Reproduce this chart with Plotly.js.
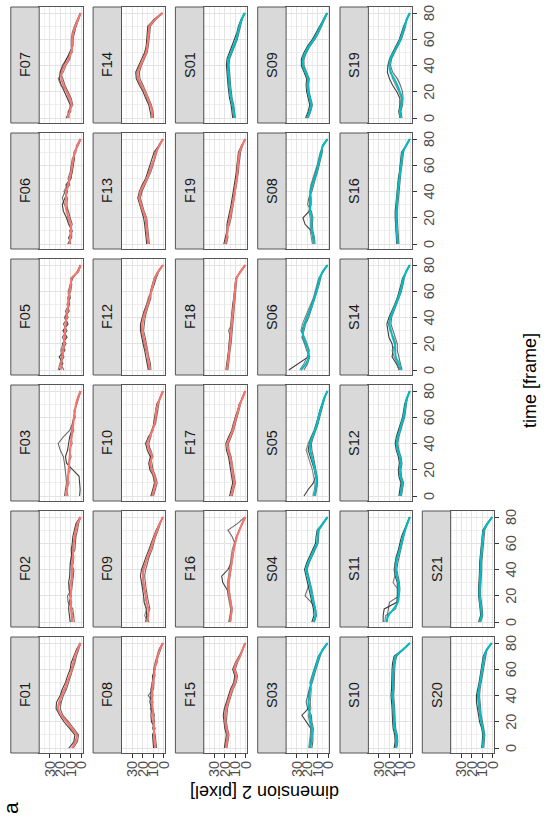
<!DOCTYPE html>
<html><head><meta charset="utf-8">
<script src="https://cdn.plot.ly/plotly-3.0.1.min.js"></script>
<style>
html,body{margin:0;padding:0;background:#fff;overflow:hidden;width:547px;height:817px}
#wrap{position:absolute;left:0;top:0;width:817px;height:547px;transform-origin:0 0;transform:translateY(817px) rotate(-90deg);}
</style></head>
<body><div id="wrap"><div id="chart" style="width:817px;height:547px"></div></div>
<script>
// time frames
const T = [0,5,10,15,20,25,30,35,40,45,50,55,60,65,70,75,80];
const TIME_TICKS = [0,20,40,60,80];
const DIM_TICKS = [0,10,20,30];
const PANELS = ['F01','F02','F03','F05','F06','F07','F08','F09','F10','F12','F13','F14','F15','F16','F17','F18','F19','S01','S03','S04','S05','S06','S08','S09','S10','S11','S12','S14','S16','S19','S20','S21'];

const F01_mean=[9,5,4.5,9,14,19,22,21,18.5,16,13.5,11,9,7.5,6,3.5,0.5];
const F01_r1=[11.5,7,6,11,16.5,20.5,24,23.5,20,18,15,13,10.5,9.5,7,4.5,1];
const F01_r2=[7.5,3.5,2.5,7,12,17.5,20,19,17,14,12,9.5,7.5,6,4.5,2.5,0.3];
const F01_r3=[12,6,3.5,10.5,13,20.5,23,19.5,20,15,14.5,10,10,7,6.5,3,0.8];

const F02_mean=[8.5,9,9.5,10,10,9.5,9.5,9,8.5,8.5,8,7.5,7,6.5,5,3.5,0.5];
const F02_r1=[10.5,11,12,11.5,9.5,11.5,12,11,10.5,10.5,9,9.5,8.5,8,6.5,5,1];
const F02_r2=[6.5,7.5,8,12.5,13,9,8,7.5,7,10,9.5,6,5.5,5,3.5,2.5,0.5];
const F02_r3=[10,7.5,10.5,9,11,11.5,10.5,8,9.5,7.5,7,8.5,8,5.5,6,4.5,0.8];

const F03_mean=[14.5,13.5,13,12.5,12,11.5,11,10.5,10,9,8.5,7.5,7,6,5,3,0.5];
const F03_r1=[1.5,1,1.5,2,8,14,15,13,12,11,9,8,7,6,5,3,0.5];
const F03_r2=[16,15,14,14.5,15,16,17,20,22,17,11,8.5,7,6,5,3.5,1];
const F03_r3=[12.5,14,11.5,13,10.5,12.5,9.5,11.5,8.5,10,7,8.5,5.5,7,4,2.5,0.3];

const F05_mean=[19.5,19,18,17,16.5,16,15.5,15,14,13,12.5,12,11,10,9,3,0.5];
const F05_r1=[21,17.5,21,15.5,18,13.5,17.5,12.5,15.5,11.5,13.5,10.5,11.5,10.5,8,3.5,1];
const F05_r2=[16.5,20,16.5,18.5,14.5,18,13.5,17,12.5,15,11.5,13,10,9,10,2.5,0.5];
const F05_r3=[22,20.5,18.5,19.5,17.5,14.5,16.5,13.5,16,13,11,12,12.5,10.5,8.5,4,0.3];

const F06_mean=[11,10.5,9.5,10,12,14,15,14.5,14,12.5,11,9.5,8.5,7.5,6,3.5,0.5];
const F06_r1=[10,12,8.5,12,14,17,18,15.5,13,14.5,10,8.5,7.5,6.5,6.5,3,0.5];
const F06_r2=[12.5,9.5,11,8.5,10.5,12,16,18,15.5,11,12.5,10.5,9.5,8.5,5,4.5,1];
const F06_r3=[13,9,9,11.5,13,12.5,13.5,13,16.5,13.5,9.5,9,9.5,7,7,3,0.3];

const F07_mean=[13,11,9,11,14,17,19,18.5,16,12,9.5,8.5,8.5,7.5,5.5,3,0.5];
const F07_r1=[14.5,10,10.5,13,16,19,21,20,17,13.5,11,8,8,6.5,5,2.5,0.5];
const F07_r2=[11.5,12.5,8,9.5,12.5,15.5,17.5,20,18,14,8.5,9.5,9.5,8.5,6.5,4,1];
const F07_r3=[14,12,10,12.5,13,19.5,22,17,14.5,10.5,10.5,8,7.5,7.5,4.5,3,0.3];

const F08_mean=[8,8.5,9,9,9.5,10,10.5,11,11,10.5,10,9,8.5,7,5.5,3.5,0.5];
const F08_r1=[9.5,10,10.5,8,11.5,12,11.5,13,12,12,10.5,10.5,8,7.5,5,3,0.5];
const F08_r2=[6.5,7.5,8,10.5,8.5,9.5,12.5,10,14.5,9.5,9,9.5,9.5,8,6.5,4.5,1];
const F08_r3=[8.5,9.5,8,9.5,10.5,8.5,10,12,10,11.5,11,8,9,6,5.5,3.5,0.3];

const F09_mean=[15.5,14.5,14.5,16,17,18,19,19.5,19,17,15,12.5,10.5,8.5,6,3.5,0.5];
const F09_r1=[17,16,16.5,18.5,19,20,21.5,22,21,19,16.5,14,12,9.5,7,4,0.5];
const F09_r2=[14,15.5,13,14.5,15.5,16.5,17.5,18,17,15.5,13.5,11,9.5,7.5,5,3,1];
const F09_r3=[15,18,16,18,17,18.5,20.5,20,20,17.5,14,13.5,11,9,6.5,4,0.3];

const F10_mean=[10.5,9,7.5,8.5,11,12.5,11,13.5,15.5,13,10.5,8.5,7.5,7,5.5,3,0.5];
const F10_r1=[12,10.5,8.5,9.5,13,14,12.5,15.5,17,14.5,10,9.5,8.5,8,6.5,3,0.5];
const F10_r2=[9.5,8,6,7.5,10,11,12.5,12.5,14,12,11.5,7.5,6.5,6,4.5,3.5,1];
const F10_r3=[12,9,8.5,10,11.5,14,10,12,17.5,13.5,11.5,9.5,7,7.5,5.5,2.5,0.3];

const F12_mean=[13,14,15,16,17.5,19,20,20,19,17,15,13,11.5,10,8,5,0.5];
const F12_r1=[14.5,15.5,17,18,19.5,21,22,22,20.5,18.5,16,13.5,11,9,7,4.5,0.5];
const F12_r2=[12,12.5,14,15,16.5,17.5,19,18.5,17.5,16,14,12,12.5,11,9,5.5,1];
const F12_r3=[14,15,14.5,17,18.5,20,21,20.5,20.5,18,16.5,14.5,12,10.5,8,5,0.3];

const F13_mean=[14.5,15,16,16,17,19.5,21.5,23,22,19,15.5,13,11,9,7,4,0.5];
const F13_r1=[16,16.5,17.5,18,19,21,23,24.5,23,20.5,17,15,13,11.5,9,4.5,0.5];
const F13_r2=[13.5,14,15,15,16,18.5,20.5,22,20.5,17.5,14.5,12,10,8,6,4.5,1];
const F13_r3=[15,15.5,16,17,17.5,20.5,22.5,23,21,19.5,15,14,11.5,9,8,3.5,0.3];

const F14_mean=[10.7,11,12.5,15,17.5,21,24,24.5,22,19,16.5,15.5,14.5,14,13.5,8,1];
const F14_r1=[11.5,12.5,14,17,19.5,23,26,26.5,23.5,20.5,18,16.5,16,15,15,9,1];
const F14_r2=[9.5,10,11.5,14,16.5,19.5,22.5,23,21,18,15.5,14.5,13.5,13,12.5,7.5,0.5];
const F14_r3=[12,10.5,13,16,18,22,25,25.5,23,19,17.5,15.5,15,14.5,14,9.5,1.5];

const F15_mean=[19,18,17,18.5,19.5,19.5,18.5,17,15,13,10,9,11,9,5.5,3,0.5];
const F15_r1=[20.5,19.5,18.5,20,21,21.5,20.5,18.5,16.5,14.5,11.5,10.5,12.5,10,6.5,3,0.5];
const F15_r2=[18,17,16,17.5,18.5,18,17.5,16,14,12,9,8,10,8,5,3.5,1];
const F15_r3=[20,18.5,17.5,19.5,20.5,20,19,18,15.5,13.5,11,9.5,12,9.5,5.5,2.5,0.3];

const F16_mean=[15,14,13.5,14.5,15.5,16.5,16.5,15.5,14.5,13.5,12.5,11.5,10,8.5,6,3.5,0.5];
const F16_r1=[15.5,14.5,14,15,16,18,22,23,17,14,13,12,10.5,9,6.5,3.5,0.5];
const F16_r2=[14.5,13.5,13,14,15,16,16,15,14,13,12,11,10.5,13,17,8,1];
const F16_r3=[16.5,15,14.5,16,17,17.5,17.5,16.5,15.5,15,14,13,11,9,6.5,3,0.3];

const F17_mean=[14,12.5,11,12,13,13.5,15,17,17.5,15,12.5,11,9,7.5,5.5,3,0.5];
const F17_r1=[15.5,14,12.5,13.5,14.5,15,16.5,18.5,19,16.5,13.5,12,10,8.5,6,3,0.5];
const F17_r2=[13,11.5,10,11,12,12.5,14,16,16.5,14,11.5,10,8,6.5,5,3.5,1];
const F17_r3=[14.5,13,11,13,13,14.5,15.5,17.5,17,15.5,13.5,11,10,7.5,6.5,2.5,0.3];

const F18_mean=[18,17.2,16.5,15.8,15,14.5,14,13.5,13,12.2,11.5,11,10.5,9.8,9,5,0.5];
const F18_r1=[19,18,17.5,16.5,16,15.5,15,14.5,14,13,12.5,11.5,11,10.5,9.5,5,0.5];
const F18_r2=[17,16.5,15.5,15,14,13.5,13,12.5,12,11.5,10.5,10.5,10,9,8.5,5.5,1];
const F18_r3=[18,17.5,16.5,16,15.5,14.5,16.5,13.5,13,12.5,11.5,11.5,10.5,10,9.5,4.5,0.3];

const F19_mean=[19.5,18,17.5,16.5,15,14,12.5,11.5,10.5,9.5,8.5,8,7.5,7,6,3.5,0.5];
const F19_r1=[21,19.5,18,18,16.5,15,14,13,12,10.5,9.5,9,8.5,8,7,4,0.5];
const F19_r2=[18.5,17,18,15.5,14,13,11.5,10.5,9.5,8.5,7.5,7,6.5,6,5,3,1];
const F19_r3=[20,18.5,17,17,16,14.5,13,12,10.5,10,8.5,8,8,7,6,4,0.3];

const S01_mean=[11,11.5,12.5,14,15,15.5,16,16.5,17,16.5,14,11.5,9,7.5,6,4,1];
const S01_r1=[12.5,13,14,15.5,16.5,17,17.5,18,18.5,18,15.5,13,10.5,8.5,7,4.5,1];
const S01_r2=[10,10.5,11.5,13,14,14.5,15,15.5,16,15.5,13,10.5,8,6.5,5,3.5,0.5];
const S01_r3=[11.5,12,13,14.5,15.5,16,17,17,17.5,16.5,14.5,12,9,7.5,6,4.5,1.5];

const S03_mean=[17,16,15.5,15.5,16.5,17.5,18,18.5,18,17,16,14.5,12.5,10.5,8.5,5,0.5];
const S03_r1=[17.5,16.5,16,16.5,21,25,19,19,18.5,17.5,16.5,15,13,11,9,5,0.5];
const S03_r2=[15.5,14.5,14.5,14,15.5,16,19.5,21,19.5,18,15,13.5,11.5,9.5,7.5,5.5,1];
const S03_r3=[18.5,17.5,17,16.5,17.5,19,16.5,17,16.5,16,17.5,15.5,13.5,11.5,9.5,4.5,0.3];

const S04_mean=[14,12,12.5,14,15.5,16.5,18,19.5,21,19,16,13.5,10.5,10,9.5,5,0.5];
const S04_r1=[15.5,13.5,14,15.5,17,18,19.5,21,22.5,20.5,17.5,15,12,11.5,10.5,5,0.5];
const S04_r2=[13.5,11.5,12,16,22,20,17.5,19,20.5,18.5,15.5,13,10,9.5,9,5.5,1];
const S04_r3=[13,11,12,13,14.5,15.5,17,18.5,20,18,15,12.5,9.5,9,8.5,4.5,0.3];

const S05_mean=[13,12,11,11.5,12.5,14,15.5,17,17,15,12.5,10.5,9,7.5,5.5,3.5,0.5];
const S05_r1=[23,19,14,12,13,15,17,19,18,16,13,11,9.5,8,6,3.5,0.5];
const S05_r2=[12,11,10,10.5,11.5,12.5,14,15.5,16,14,11.5,9.5,8,6.5,5,3,1];
const S05_r3=[14.5,13,12.5,13.5,15,17,19,21,19,16,13.5,11.5,9.5,8,6,4,0.3];

const S06_mean=[26,21,18.5,19,21,23.5,24,22.5,20,17.5,15,13,11,9.5,8,5,0.5];
const S06_r1=[37.5,28,19,18.5,21.5,24,25,23,20.5,18,15.5,13.5,11.5,10,8.5,5,0.5];
const S06_r2=[23,19.5,17.5,20.5,22.5,25,23,21.5,18.5,16.5,14,12,10,8.5,7,5.5,1];
const S06_r3=[27,23,20,18,20,22.5,26,24.5,22,19.5,16.5,14,12.5,10.5,9,4.5,0.3];

const S08_mean=[13.5,14,15.5,16,15.5,17,17,17,16.5,15,13,11,9.5,8,6.5,5,0.5];
const S08_r1=[14,14.5,16,22,24,18,17.5,17.5,17,15.5,13.5,11.5,10,8.5,7,5,0.5];
const S08_r2=[12.5,13,14.5,15,14.5,16,19.5,18.5,15.5,14,12,10,8.5,7,5.5,5.5,1];
const S08_r3=[15,16,17,17,17,18.5,16,16,17.5,16.5,14.5,12,10.5,9,7.5,4.5,0.3];

const S09_mean=[20,17.5,16,17.5,19,19.5,19,21.5,24,24,21.5,18,13.5,10,7,4,1];
const S09_r1=[21.5,19,17.5,19,20.5,21,20.5,23,25.5,25.5,23,19.5,15,11.5,8,4.5,1];
const S09_r2=[19,16.5,15,16.5,18,18.5,18,20.5,23,23,20.5,17,12.5,9,6,3.5,0.5];
const S09_r3=[20.5,18,16.5,18,19.5,20,20,22,24.5,24.5,21,18.5,14,10,7.5,4.5,1.5];

const S10_mean=[14,13,13.5,15,15.5,15.5,16,16.5,17,16.5,16.5,16.5,16,15.5,14,7,0.5];
const S10_r1=[15.5,14.5,15,16.5,17,17,17.5,18,18.5,18,18,18,17.5,17,15.5,7.5,0.5];
const S10_r2=[13,12,12.5,14,14.5,14.5,15,15.5,16,15.5,15.5,15.5,15,14.5,13,7,1];
const S10_r3=[14.5,13.5,14,15.5,16.5,16,16.5,17,17.5,17,17,17,16.5,16,14.5,6.5,0.3];

const S11_mean=[23,21,16,12,11,11,11.5,13,14,13.5,12,10,8.5,7,5,3,0.5];
const S11_r1=[26,26,25,13,12.5,12.5,12.5,14.5,15.5,14.5,13.5,11.5,10,8.5,6,3,0.5];
const S11_r2=[22,22,21,20,10.5,10,10.5,11.5,13,12,10.5,9,7.5,6,4.5,3.5,1];
const S11_r3=[24.5,23.5,14,12.5,12,12,16.5,15,15,14.5,13,11,9.5,7.5,5,2.5,0.3];

const S12_mean=[9.5,8.5,7.5,9.5,10,9,10,12,13,12,10,8.5,6.5,5.5,4.5,3,0.5];
const S12_r1=[11,10,9,11,11.5,10.5,11.5,13.5,14.5,13.5,11.5,9.5,7.5,6.5,5.5,3.5,0.5];
const S12_r2=[8.5,7.5,6.5,8.5,9,8,9,11,12,11,9,7.5,5.5,4.5,3.5,3,1];
const S12_r3=[10,9,8.5,10,11,9.5,10.5,12.5,13.5,12.5,10.5,9,7,5.5,5,2.5,0.3];

const S14_mean=[9.5,11,14,14.5,15,17,18.5,20,19,16.5,14,11.5,9.5,8,6.5,4,0.5];
const S14_r1=[10.5,13.5,17.5,16.5,17.5,20.5,21.5,22.5,20.5,17.5,15,12.5,10.5,9,7.5,4,0.5];
const S14_r2=[8,9.5,11.5,12.5,12.5,14.5,16.5,18.5,18,15.5,13,10.5,8.5,7,5.5,4.5,1];
const S14_r3=[11,12.5,15.5,17.5,14,16,19.5,21,19.5,17,14.5,12,10,8.5,6.5,3.5,0.3];

const S16_mean=[12,12.5,13,13.3,13.5,13.3,13,12.5,12,11.3,10.5,9.8,9,8.2,7.5,4,0.5];
const S16_r1=[13,13.5,14,14.5,14.5,14.5,14,13.5,13,12.5,11.5,10.5,10,9,8.5,4,0.5];
const S16_r2=[11,11.5,12,12.5,12.5,12.5,12,11.5,11,10.5,9.5,9,8,7.5,6.5,4.5,1];
const S16_r3=[12.5,12.5,13.5,13.5,14,13.5,13,12.5,12.5,11.5,10.5,10,9,8.5,7.5,3.5,0.3];

const S19_mean=[9,10,8.5,8,10,12.5,15.5,19,20,19,16,12.5,9.5,7.5,5.5,3.5,0.5];
const S19_r1=[10,11,10,10,13,17,20,22,21.5,20,17,13.5,10.5,8.5,6.5,3.5,0.5];
const S19_r2=[8,9,7.5,7,7.5,9.5,12.5,17,19,18,15,11.5,8.5,6.5,4.5,4,1];
const S19_r3=[10,11,9.5,8.5,11,14,17,18.5,20.5,19.5,16,13,10,8,6,3,0.3];

const S20_mean=[9.5,9,8.5,9.5,11,12,12.5,13,13.5,13,12,11,10,9,8,5.5,1];
const S20_r1=[10.5,10,9.5,10.5,12.5,13.5,14.5,15.5,15.5,14,13,12,11,10,9,6,1];
const S20_r2=[8.5,8,7.5,8.5,10,11,11.5,12,12.5,12,11,10,9,8,7,5.5,0.5];
const S20_r3=[9.5,9.5,8.5,10,11.5,12.5,13.5,14,14.5,13.5,12.5,11.5,10.5,9.5,8.5,5,1.5];

const S21_mean=[12.5,10.5,11,12,12.5,12.5,12,12,11.5,11.5,11,10.5,10,9.5,8.5,5,0.5];
const S21_r1=[13.5,11.5,12,13,13.5,13.5,13,13,12.5,12.5,12,11.5,11,10.5,9.5,5.5,0.5];
const S21_r2=[11.5,9.5,10,11,11.5,11.5,11,11,10.5,10.5,10,9.5,9,8.5,7.5,5,1];
const S21_r3=[12.5,11,11.5,12.5,13,13,12.5,12,12,11.5,11.5,11,10.5,9.5,9,4.5,0.3];

const SERIES = {
 F01:[F01_mean,F01_r1,F01_r2,F01_r3], F02:[F02_mean,F02_r1,F02_r2,F02_r3], F03:[F03_mean,F03_r1,F03_r2,F03_r3],
 F05:[F05_mean,F05_r1,F05_r2,F05_r3], F06:[F06_mean,F06_r1,F06_r2,F06_r3], F07:[F07_mean,F07_r1,F07_r2,F07_r3],
 F08:[F08_mean,F08_r1,F08_r2,F08_r3], F09:[F09_mean,F09_r1,F09_r2,F09_r3], F10:[F10_mean,F10_r1,F10_r2,F10_r3],
 F12:[F12_mean,F12_r1,F12_r2,F12_r3], F13:[F13_mean,F13_r1,F13_r2,F13_r3], F14:[F14_mean,F14_r1,F14_r2,F14_r3],
 F15:[F15_mean,F15_r1,F15_r2,F15_r3], F16:[F16_mean,F16_r1,F16_r2,F16_r3], F17:[F17_mean,F17_r1,F17_r2,F17_r3],
 F18:[F18_mean,F18_r1,F18_r2,F18_r3], F19:[F19_mean,F19_r1,F19_r2,F19_r3], S01:[S01_mean,S01_r1,S01_r2,S01_r3],
 S03:[S03_mean,S03_r1,S03_r2,S03_r3], S04:[S04_mean,S04_r1,S04_r2,S04_r3], S05:[S05_mean,S05_r1,S05_r2,S05_r3],
 S06:[S06_mean,S06_r1,S06_r2,S06_r3], S08:[S08_mean,S08_r1,S08_r2,S08_r3], S09:[S09_mean,S09_r1,S09_r2,S09_r3],
 S10:[S10_mean,S10_r1,S10_r2,S10_r3], S11:[S11_mean,S11_r1,S11_r2,S11_r3], S12:[S12_mean,S12_r1,S12_r2,S12_r3],
 S14:[S14_mean,S14_r1,S14_r2,S14_r3], S16:[S16_mean,S16_r1,S16_r2,S16_r3], S19:[S19_mean,S19_r1,S19_r2,S19_r3],
 S20:[S20_mean,S20_r1,S20_r2,S20_r3], S21:[S21_mean,S21_r1,S21_r2,S21_r3]
};

// ---- layout (drawn in the un-rotated 817x547 frame, then rotated by CSS) ----
const W = 817, H = 547;
const FONT = 'Liberation Sans, Arial, Helvetica, sans-serif';
const NCOL = 6;
const colX0 = c => 64 + 126*c, colX1 = c => 180 + 126*c;
const stripTop = r => 10.8 + 82.3*r, plotTop = r => 39.2 + 82.3*r, plotBot = r => 82.5 + 82.3*r;
const px = x => x / W, py = y => 1 - y / H;
const GREYS = ['rgba(0,0,0,0.75)','rgba(45,45,45,0.7)','rgba(100,100,100,0.8)'];
const BORDER = '#555555';

const traces = [], shapes = [], annotations = [];
const layout = {
  width: W, height: H, margin: {l:0, r:0, t:0, b:0},
  paper_bgcolor: '#fff', plot_bgcolor: '#fff', showlegend: false,
  font: {family: FONT, color: '#4D4D4D'}
};

const n = PANELS.length;
PANELS.forEach((name, i) => {
  const r = Math.floor(i / NCOL), c = i % NCOL, k = i + 1;
  const sfx = k === 1 ? '' : String(k);
  const showTime = i + NCOL >= n;
  const showDim = c === 0;
  layout['xaxis' + sfx] = {
    domain: [px(colX0(c)), px(colX1(c))], anchor: 'y' + sfx,
    range: [-3.8, 84.6], tickmode: 'array', tickvals: TIME_TICKS,
    showticklabels: showTime, ticks: showTime ? 'outside' : '', ticklen: 4, tickwidth: 1, tickcolor: '#333',
    tickfont: {family: FONT, size: 14.5, color: '#4D4D4D'},
    showgrid: true, gridcolor: '#E3E3E3', gridwidth: 1, zeroline: false,
    minor: {tickmode: 'array', tickvals: [10,30,50,70], showgrid: true, gridcolor: '#EBEBEB', gridwidth: 0.8, ticks: ''},
    showline: true, mirror: true, linecolor: BORDER, linewidth: 1
  };
  layout['yaxis' + sfx] = {
    domain: [py(plotBot(r)), py(plotTop(r))], anchor: 'x' + sfx,
    range: [-1.26, 40.1], tickmode: 'array', tickvals: DIM_TICKS,
    showticklabels: showDim, ticks: showDim ? 'outside' : '', ticklen: 4, tickwidth: 1, tickcolor: '#333',
    tickfont: {family: FONT, size: 14.5, color: '#4D4D4D'},
    showgrid: true, gridcolor: '#E3E3E3', gridwidth: 1, zeroline: false,
    minor: {tickmode: 'array', tickvals: [5,15,25,35], showgrid: true, gridcolor: '#EBEBEB', gridwidth: 0.8, ticks: ''},
    showline: true, mirror: true, linecolor: BORDER, linewidth: 1
  };
  const s = SERIES[name];
  const col = name[0] === 'F' ? '#F8766D' : '#00BFC4';
  [1,2,3].forEach(j => traces.push({
    x: T, y: s[j], type: 'scatter', mode: 'lines', xaxis: 'x' + sfx, yaxis: 'y' + sfx,
    line: {color: GREYS[j-1], width: 1.1}, hoverinfo: 'skip'
  }));
  traces.push({
    x: T, y: s[0], type: 'scatter', mode: 'lines', xaxis: 'x' + sfx, yaxis: 'y' + sfx,
    line: {color: col, width: 2, shape: 'spline', smoothing: 0.7}, hoverinfo: 'skip'
  });
  shapes.push({type: 'rect', xref: 'paper', yref: 'paper',
    x0: px(colX0(c)), x1: px(colX1(c)), y0: py(plotTop(r)), y1: py(stripTop(r)),
    fillcolor: '#D9D9D9', line: {color: BORDER, width: 1}});
  annotations.push({xref: 'paper', yref: 'paper', x: px((colX0(c)+colX1(c))/2), y: py((stripTop(r)+plotTop(r))/2),
    text: name, showarrow: false, xanchor: 'center', yanchor: 'middle',
    font: {family: FONT, size: 14.5, color: '#1A1A1A'}});
});

annotations.push({xref: 'paper', yref: 'paper', x: px(437), y: py(530), text: 'time [frame]', showarrow: false,
  xanchor: 'center', yanchor: 'middle', font: {family: FONT, size: 18, color: '#000'}});
annotations.push({xref: 'paper', yref: 'paper', x: px(25), y: py(265), text: 'dimension 2 [pixel]', showarrow: false,
  textangle: -90, xanchor: 'center', yanchor: 'middle', font: {family: FONT, size: 18, color: '#000'}});
annotations.push({xref: 'paper', yref: 'paper', x: px(1), y: py(-3), text: 'a', showarrow: false,
  xanchor: 'left', yanchor: 'top', font: {family: FONT, size: 21, color: '#000'}});

layout.shapes = shapes;
layout.annotations = annotations;
Plotly.newPlot('chart', traces, layout, {displayModeBar: false, staticPlot: true});
</script></body></html>
